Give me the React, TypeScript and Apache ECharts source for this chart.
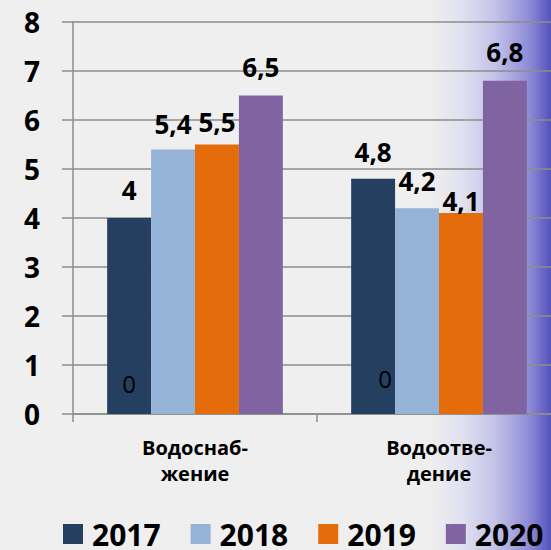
import React, { useEffect, useRef } from "react";
import * as echarts from "echarts";

const categories = ["Водоснаб-\nжение", "Водоотве-\nдение"];
const years = ["2017", "2018", "2019", "2020"];
const values2017 = [4, 4.8];
const values2018 = [5.4, 4.2];
const values2019 = [5.5, 4.1];
const values2020 = [6.5, 6.8];
const zeroLabels = [0, 0];
const colors = ["#243F60", "#95B3D7", "#E46C0A", "#8064A2"];
const labelDistances = [
  [16, 13, 11, 17],
  [15, 15, 0, 17],
];

const FONT = "'Open Sans', 'DejaVu Sans', sans-serif";

export default function App() {
  const ref = useRef<HTMLDivElement>(null);
  useEffect(() => {
    if (!ref.current) return;
    const chart = echarts.init(ref.current, undefined, { renderer: "svg" });
    const all = [values2017, values2018, values2019, values2020];
    const series: any[] = all.map((vals, si) => ({
      name: years[si],
      type: "bar",
      barGap: "0%",
      barCategoryGap: "28%",
      itemStyle: { color: colors[si] },
      data: vals.map((v, ci) => ({
        value: v,
        label: { distance: labelDistances[ci][si] },
      })),
      label: {
        show: true,
        position: "top",
        fontFamily: FONT,
        fontWeight: "bold",
        fontSize: 26,
        lineHeight: 24,
        color: "#000",
        formatter: (p: any) => String(p.value).replace(".", ","),
      },
    }));
    series[0].markPoint = {
      symbol: "circle",
      symbolSize: 0,
      label: {
        show: true,
        fontFamily: FONT,
        fontSize: 24,
        color: "#000",
        formatter: (p: any) => String(p.value),
      },
      data: zeroLabels.map((z, ci) => ({
        coord: [ci, z],
        value: z,
        label: { offset: ci === 0 ? [0, -31] : [12, -36] },
      })),
    };
    chart.setOption({
      animation: false,
      backgroundColor: "transparent",
      color: colors,
      grid: { left: 73, right: 0, top: 22, bottom: 136, containLabel: false },
      legend: {
        data: years,
        left: 63,
        top: 519,
        width: 495,
        padding: 0,
        itemWidth: 20,
        itemHeight: 20,
        itemGap: 30,
        icon: "rect",
        textStyle: {
          fontFamily: FONT,
          fontWeight: "bold",
          fontSize: 30,
          lineHeight: 28,
          color: "#000",
          padding: [0, 0, 0, 4],
        },
      },
      xAxis: {
        type: "category",
        data: categories,
        axisLine: { lineStyle: { color: "#8c8c8c", width: 1.5 } },
        axisTick: { show: true, length: 8, lineStyle: { color: "#8c8c8c", width: 1.5 } },
        axisLabel: {
          fontFamily: FONT,
          fontWeight: "bold",
          fontSize: 20,
          lineHeight: 26,
          color: "#000",
          margin: 20,
        },
      },
      yAxis: {
        type: "value",
        min: 0,
        max: 8,
        interval: 1,
        axisLine: { show: true, lineStyle: { color: "#8c8c8c", width: 1.5 } },
        axisTick: { show: true, length: 11, lineStyle: { color: "#8c8c8c", width: 1.5 } },
        splitLine: { lineStyle: { color: "#8c8c8c", width: 1.5 } },
        axisLabel: {
          fontFamily: FONT,
          fontWeight: "bold",
          fontSize: 28,
          color: "#000",
          margin: 33,
        },
      },
      series,
    });
    return () => chart.dispose();
  }, []);
  return (
    <div
      style={{
        position: "absolute",
        left: 0,
        top: 0,
        width: 551,
        height: 550,
        overflow: "hidden",
        background:
          "linear-gradient(to right, #efefef 0%, #efefef 78%, #e0e0f0 84%, #c2c1e8 90%, #8e8cd6 96%, #5452bc 100%)",
      }}
    >
      <div ref={ref} style={{ width: 561, height: 550 }} />
    </div>
  );
}
